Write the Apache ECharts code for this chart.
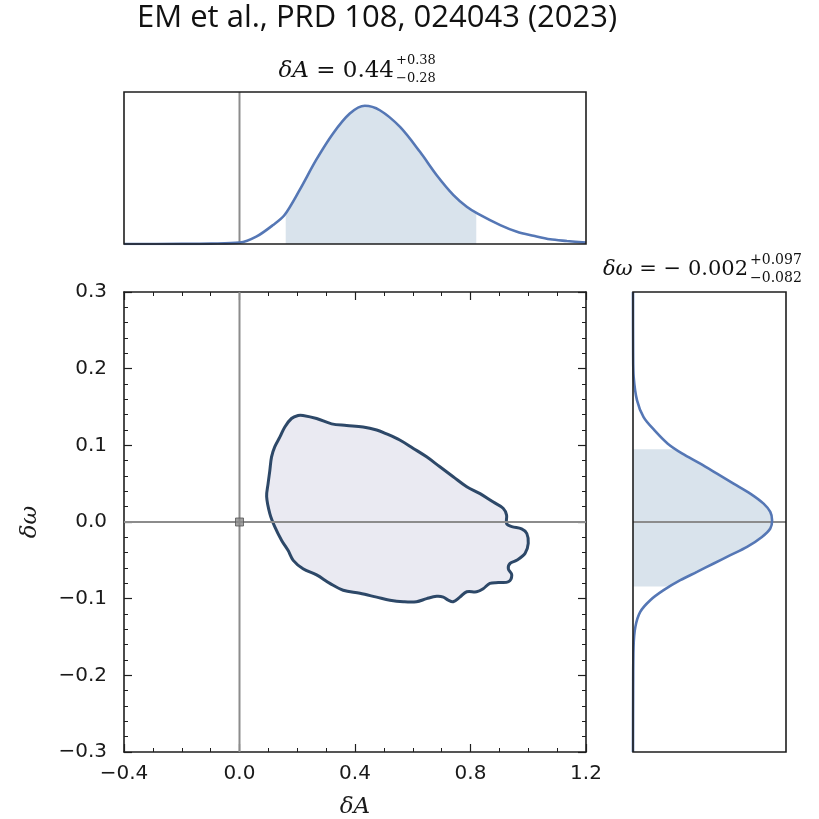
<!DOCTYPE html>
<html>
<head>
<meta charset="utf-8">
<script src="https://cdn.jsdelivr.net/npm/echarts@6/dist/echarts.min.js"></script>
<style>html,body{margin:0;padding:0;background:#fff}#c{width:819px;height:819px}</style>
</head>
<body>
<div id="c"></div>
<script>
// ---- data ----
const xTicks = [-0.4, 0.0, 0.4, 0.8, 1.2];
const yTicks = [-0.3, -0.2, -0.1, 0.0, 0.1, 0.2, 0.3];

// 2D credible contour (delta A, delta omega)
const contourA = [0.220,0.267,0.319,0.371,0.428,0.475,0.509,0.555,0.602,0.648,0.694,0.740,0.787,0.833,0.879,0.913,0.925,0.925,0.943,0.977,0.995,1.000,0.989,0.960,0.937,0.931,0.943,0.931,0.896,0.867,0.844,0.821,0.787,0.763,0.740,0.723,0.706,0.683,0.648,0.613,0.567,0.521,0.475,0.417,0.359,0.313,0.267,0.220,0.186,0.168,0.146,0.122,0.105,0.094,0.099,0.105,0.111,0.122,0.140,0.157,0.180,0.203];
const contourW = [0.139,0.135,0.128,0.126,0.124,0.120,0.115,0.107,0.096,0.085,0.072,0.059,0.046,0.037,0.026,0.018,0.009,-0.002,-0.006,-0.009,-0.015,-0.028,-0.041,-0.050,-0.054,-0.061,-0.069,-0.078,-0.079,-0.080,-0.087,-0.091,-0.091,-0.098,-0.104,-0.102,-0.098,-0.097,-0.100,-0.104,-0.104,-0.102,-0.098,-0.093,-0.089,-0.080,-0.069,-0.061,-0.050,-0.037,-0.024,-0.006,0.011,0.033,0.050,0.067,0.085,0.098,0.111,0.124,0.135,0.139];

// marginal posterior of delta A
const margA_x = [-0.4,-0.2,-0.1,0.0,0.058,0.116,0.156,0.208,0.266,0.324,0.382,0.434,0.486,0.556,0.625,0.683,0.741,0.787,0.825,0.903,0.961,1.018,1.076,1.134,1.2];
const margA_p = [0.0,0.001,0.003,0.01,0.053,0.137,0.21,0.39,0.61,0.80,0.944,1.0,0.968,0.847,0.667,0.498,0.354,0.27,0.22,0.137,0.089,0.06,0.034,0.022,0.01];
const shadeA_x = [0.16,0.208,0.266,0.324,0.382,0.434,0.486,0.556,0.625,0.683,0.741,0.787,0.82];
const shadeA_p = [0.225,0.39,0.61,0.80,0.944,1.0,0.968,0.847,0.667,0.498,0.354,0.27,0.225];

// marginal posterior of delta omega
const margW_w = [0.30,0.22,0.189,0.1586,0.1369,0.1195,0.1022,0.0892,0.0761,0.0631,0.0501,0.0371,0.0240,0.0131,0.0023,-0.0085,-0.0195,-0.0325,-0.0433,-0.0541,-0.0651,-0.0759,-0.0889,-0.1020,-0.1172,-0.1368,-0.1628,-0.22,-0.30];
const margW_p = [0.0,0.001,0.005,0.029,0.076,0.155,0.25,0.355,0.484,0.604,0.723,0.843,0.939,0.987,1.0,0.987,0.927,0.820,0.700,0.580,0.460,0.340,0.220,0.124,0.052,0.017,0.004,0.001,0.0];
const shadeW_w = [0.095,0.0892,0.0761,0.0631,0.0501,0.0371,0.0240,0.0131,0.0023,-0.0085,-0.0195,-0.0325,-0.0433,-0.0541,-0.0651,-0.0759,-0.084];
const shadeW_p = [0.30,0.355,0.484,0.604,0.723,0.843,0.939,0.987,1.0,0.987,0.927,0.820,0.700,0.580,0.460,0.340,0.265];

const injection = [0.0, 0.0];

// ---- chart ----
const chart = echarts.init(document.getElementById('c'), null, {renderer:'canvas'});
const fmt = v => Math.abs(v) < 1e-9 ? '0.0' : (v < 0 ? '\u2212' : '') + Math.abs(v).toFixed(1);
const frame = '#1e1e1e';
const tickCommon = {
  axisLine:{show:true, onZero:false, lineStyle:{color:frame, width:1.6}},
  axisTick:{show:true, inside:true, length:8, lineStyle:{color:frame, width:1.2}},
  splitLine:{show:false}
};
function mainX(pos, labels){
  return Object.assign({gridIndex:0, type:'value', position:pos, min:xTicks[0], max:xTicks[xTicks.length-1], interval:0.4,
    minorTick:{show:true, splitNumber:4, length:4, lineStyle:{color:frame, width:1}},
    axisLabel:{show:labels, formatter:fmt, fontFamily:'"DejaVu Sans"', fontSize:20, color:'#1a1a1a', margin:12},
    name: labels ? 'δA' : '', nameLocation:'middle', nameGap:44,
    nameTextStyle:{fontFamily:'"DejaVu Serif"', fontStyle:'italic', fontSize:23, color:'#1a1a1a'}
  }, tickCommon);
}
function mainY(pos, labels){
  return Object.assign({gridIndex:0, type:'value', position:pos, min:yTicks[0], max:yTicks[yTicks.length-1], interval:0.1,
    minorTick:{show:true, splitNumber:5, length:4, lineStyle:{color:frame, width:1}},
    axisLabel:{show:labels, formatter:fmt, fontFamily:'"DejaVu Sans"', fontSize:20, color:'#1a1a1a', margin:17},
    name: labels ? 'δω' : '', nameLocation:'middle', nameGap:82, nameRotate:90,
    nameTextStyle:{fontFamily:'"DejaVu Serif"', fontStyle:'italic', fontSize:23, color:'#1a1a1a'}
  }, tickCommon);
}
const blue = '#5577b5';
const gray = '#8c8c8c';
const mathFont = '"DejaVu Serif"';

const option = {
  animation:false,
  backgroundColor:'#fff',
  grid:[
    {left:124, top:292, width:462, height:460, show:false, outerBoundsMode:'none', containLabel:false},
    {left:124, top:92, width:462, height:152, show:true, borderColor:frame, borderWidth:1.6, backgroundColor:'transparent', z:5, outerBoundsMode:'none', containLabel:false},
    {left:633, top:292, width:153, height:460, show:true, borderColor:frame, borderWidth:1.6, backgroundColor:'transparent', z:5, outerBoundsMode:'none', containLabel:false}
  ],
  xAxis:[
    mainX('bottom', true),
    mainX('top', false),
    {gridIndex:1, type:'value', min:xTicks[0], max:xTicks[xTicks.length-1], show:false},
    {gridIndex:2, type:'value', min:0, max:1.1, show:false}
  ],
  yAxis:[
    mainY('left', true),
    mainY('right', false),
    {gridIndex:1, type:'value', min:0, max:1.1, show:false},
    {gridIndex:2, type:'value', min:yTicks[0], max:yTicks[yTicks.length-1], show:false}
  ],
  graphic:[
    {type:'text', left:137, top:3, style:{text:'EM et al., PRD 108, 024043 (2023)', font:'31px "Open Sans"', fill:'#111'}},
    {type:'text', x:394, y:71, style:{text:'{i|δA} = 0.44', align:'right', verticalAlign:'middle', font:'23px ' + mathFont, fill:'#111',
      rich:{i:{fontStyle:'italic', fontFamily:'DejaVu Serif', fontSize:23}}}},
    {type:'text', x:396, y:61, style:{text:'+0.38', align:'left', verticalAlign:'middle', font:'13px ' + mathFont, fill:'#111'}},
    {type:'text', x:396, y:79, style:{text:'\u22120.28', align:'left', verticalAlign:'middle', font:'13px ' + mathFont, fill:'#111'}},
    {type:'text', x:748, y:270, style:{text:'{i|δω} = \u2212 0.002', align:'right', verticalAlign:'middle', font:'21px ' + mathFont, fill:'#111',
      rich:{i:{fontStyle:'italic', fontFamily:'DejaVu Serif', fontSize:21}}}},
    {type:'text', x:750, y:260, style:{text:'+0.097', align:'left', verticalAlign:'middle', font:'14px ' + mathFont, fill:'#111'}},
    {type:'text', x:750, y:278, style:{text:'\u22120.082', align:'left', verticalAlign:'middle', font:'14px ' + mathFont, fill:'#111'}}
  ],
  series:[
    // 2D contour
    {type:'custom', xAxisIndex:0, yAxisIndex:0, z:2, silent:true,
      data: contourA.map((a,i)=>[a, contourW[i]]),
      renderItem:function(params, api){
        if (params.dataIndex !== 0) return;
        const pts = contourA.map((a,i)=>api.coord([a, contourW[i]]));
        return {type:'polygon', shape:{points:pts, smooth:0.35},
          style:{fill:'#eaeaf2', stroke:'#2d4868', lineWidth:3}};
      }},
    // zero lines in main panel
    {type:'line', xAxisIndex:0, yAxisIndex:0, z:3, silent:true, symbol:'none',
      data:[[0,yTicks[0]],[0,yTicks[yTicks.length-1]]], lineStyle:{color:gray, width:2}},
    {type:'line', xAxisIndex:0, yAxisIndex:0, z:3, silent:true, symbol:'none',
      data:[[xTicks[0],0],[xTicks[xTicks.length-1],0]], lineStyle:{color:gray, width:2}},
    {type:'scatter', xAxisIndex:0, yAxisIndex:0, z:4, silent:true, symbol:'rect', symbolSize:8,
      data:[injection], itemStyle:{color:'#8a8a8a', borderColor:'#555', borderWidth:1}},
    // top marginal
    {type:'line', xAxisIndex:2, yAxisIndex:2, z:1, silent:true, symbol:'none', smooth:0.3,
      data: shadeA_x.map((x,i)=>[x, shadeA_p[i]]), lineStyle:{width:0, opacity:0},
      areaStyle:{color:'#d9e3ec', opacity:1}},
    {type:'line', xAxisIndex:2, yAxisIndex:2, z:3, silent:true, symbol:'none',
      data:[[0,0],[0,1.1]], lineStyle:{color:gray, width:2}},
    {type:'line', xAxisIndex:2, yAxisIndex:2, z:4, silent:true, symbol:'none', smooth:0.3,
      data: margA_x.map((x,i)=>[x, margA_p[i]]), lineStyle:{color:blue, width:2.6}},
    // right marginal
    {type:'custom', xAxisIndex:3, yAxisIndex:3, z:1, silent:true,
      data: shadeW_w.map((w,i)=>[shadeW_p[i], w]),
      renderItem:function(params, api){
        if (params.dataIndex !== 0) return;
        const pts = [api.coord([0, shadeW_w[0]])];
        shadeW_w.forEach((w,i)=>pts.push(api.coord([shadeW_p[i], w])));
        pts.push(api.coord([0, shadeW_w[shadeW_w.length-1]]));
        return {type:'polygon', shape:{points:pts}, style:{fill:'#d9e3ec'}};
      }},
    {type:'line', xAxisIndex:3, yAxisIndex:3, z:3, silent:true, symbol:'none',
      data:[[0,0],[1.1,0]], lineStyle:{color:gray, width:2}},
    {type:'line', xAxisIndex:3, yAxisIndex:3, z:4, silent:true, symbol:'none', smooth:0.3,
      data: margW_w.map((w,i)=>[margW_p[i], w]), lineStyle:{color:blue, width:2.6}}
  ]
};
chart.setOption(option);
</script>
</body>
</html>
